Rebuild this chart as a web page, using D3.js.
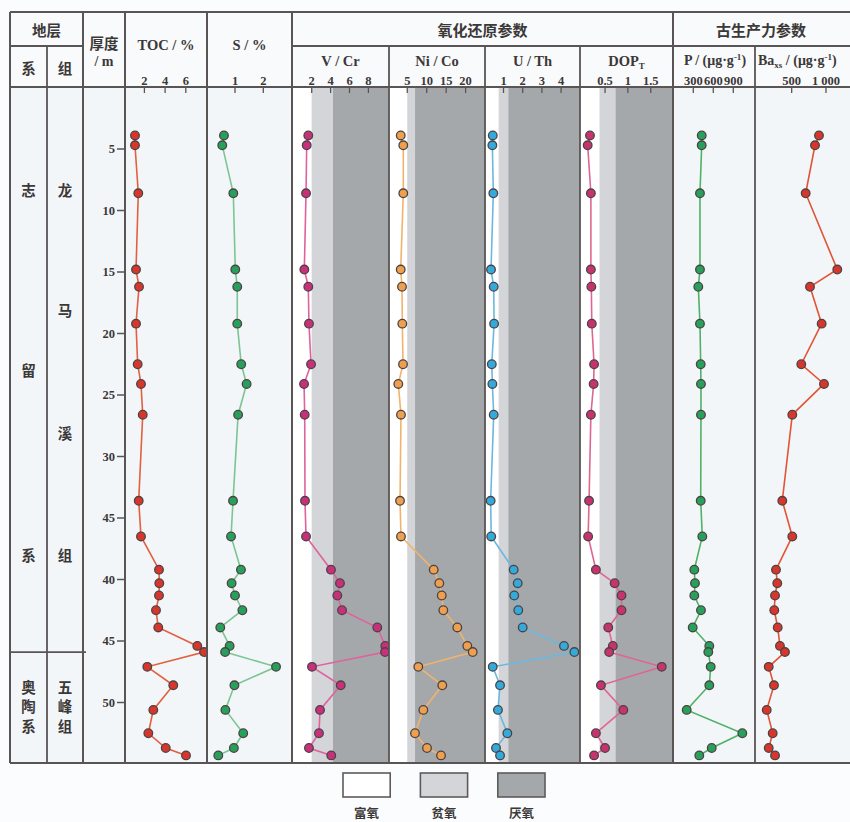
<!DOCTYPE html>
<html>
<head>
<meta charset="utf-8">
<script src="https://cdn.jsdelivr.net/npm/d3@7"></script>
<style>
  html, body { margin: 0; padding: 0; background: #fbfcfd; }
  svg { display: block; }
  .cjk { font-family: "Noto Sans CJK SC", sans-serif; font-weight: 700; fill: #3b3838; }
  .lat { font-family: "Liberation Serif", "DejaVu Serif", serif; font-weight: 700; fill: #3b3838; }
</style>
</head>
<body>
<svg id="chart" width="850" height="822"></svg>
<script>
// Sample depths (m) and measured values, one entry per sample
const depth  = [3.9, 4.7, 8.6, 14.8, 16.2, 19.2, 22.5, 24.1, 26.6, 33.6, 36.5, 39.2, 40.3, 41.3, 42.5, 43.9, 45.4, 45.9, 47.1, 48.6, 50.6, 52.5, 53.7, 54.3];
const toc    = [1.09, 1.09, 1.41, 1.19, 1.48, 1.19, 1.35, 1.67, 1.84, 1.45, 1.67, 3.41, 3.44, 3.41, 3.12, 3.34, 7.11, 7.76, 2.28, 4.79, 2.86, 2.38, 4.06, 6.02];
const sulfur = [0.61, 0.55, 0.94, 1.01, 1.08, 1.08, 1.22, 1.41, 1.11, 0.93, 0.86, 1.21, 0.88, 1.00, 1.26, 0.48, 0.81, 0.65, 2.45, 0.98, 0.66, 1.29, 0.96, 0.41];
const vCr    = [1.64, 1.47, 1.40, 1.22, 1.64, 1.71, 1.93, 1.19, 1.26, 1.29, 1.40, 4.04, 4.99, 4.71, 5.21, 8.94, 9.79, 9.76, 2.03, 5.07, 2.88, 2.77, 1.71, 4.07];
const niCo   = [3.32, 3.98, 3.98, 3.32, 3.65, 3.73, 3.91, 2.70, 3.39, 3.14, 3.39, 11.80, 13.24, 13.86, 14.27, 17.87, 20.44, 21.83, 7.84, 14.01, 9.13, 6.99, 10.08, 13.68];
const uTh    = [0.44, 0.42, 0.47, 0.35, 0.49, 0.51, 0.39, 0.42, 0.49, 0.33, 0.36, 1.53, 1.74, 1.56, 1.77, 2.00, 4.15, 4.69, 0.44, 0.82, 0.71, 1.20, 0.61, 0.82];
const dopT   = [0.17, 0.12, 0.19, 0.19, 0.20, 0.21, 0.26, 0.25, 0.19, 0.15, 0.13, 0.30, 0.71, 0.86, 0.86, 0.57, 0.67, 0.59, 1.74, 0.41, 0.90, 0.30, 0.50, 0.26];
const pConc  = [426, 426, 400, 400, 375, 400, 411, 415, 415, 411, 435, 315, 325, 315, 415, 291, 540, 525, 561, 540, 201, 1035, 576, 390];
const baXs   = [898, 840, 704, 1165, 767, 937, 640, 971, 509, 363, 509, 271, 290, 257, 246, 296, 329, 402, 165, 242, 136, 223, 165, 257];

// Axis ticks
const depthTicks      = [5, 10, 15, 20, 25, 30, 35, 40, 45, 50];
const depthTickLabels = ["5", "10", "15", "20", "25", "30", "45", "40", "45", "50"];
const tocTicks  = [2, 4, 6];
const sTicks    = [1, 2];
const vCrTicks  = [2, 4, 6, 8];
const niCoTicks = [5, 10, 15, 20];
const uThTicks  = [1, 2, 3, 4];
const dopTicks  = [0.5, 1, 1.5];
const dopTickLabels = ["0.5", "1", "1.5"];
const pTicks    = [300, 600, 900];
const baTicks   = [500, 1000];
const baTickLabels = ["500", "1 000"];

// Redox thresholds: [oxic/dysoxic, dysoxic/anoxic]
const vCrLimits  = [2, 4.25];
const niCoLimits = [5, 7];
const uThLimits  = [0.75, 1.25];
const dopLimits  = [0.38, 0.73];

// Stratigraphy
const formationBoundary = 45.9;
const legendLabels = ["富氧", "贫氧", "厌氧"];

// ---------------------------------------------------------------
const svg = d3.select("#chart");
const top0 = 12, midY = 46, headBot = 87, bodyBot = 763;
const cols = [10, 47, 83, 125, 207, 292, 389, 485, 580, 673, 755, 853];
const lineCol = "#595555";
const panelBg = "#f3f6f9";
const lightGrey = "#d3d5d8", darkGrey = "#a5a8ab";

const y = d3.scaleLinear().domain([0, 55]).range([headBot + 0.5, headBot + 0.5 + 55 * 12.3]);

// Background fills
svg.append("rect").attr("x", cols[0]).attr("y", top0).attr("width", 850 - cols[0]).attr("height", headBot - top0).attr("fill", "#f9fafb");
svg.append("rect").attr("x", cols[0]).attr("y", headBot).attr("width", 850 - cols[0]).attr("height", bodyBot - headBot).attr("fill", panelBg);

const panels = [
  { key: "toc",  left: cols[3], right: cols[4], vals: toc,    ticks: tocTicks,  domain: [0, 8],    range: [123.7, 206.5], fill: "#d8362c", line: "#e2603f" },
  { key: "s",    left: cols[4], right: cols[5], vals: sulfur, ticks: sTicks,    domain: [0, 3],    range: [206.7, 291.6], fill: "#26a05a", line: "#7cc592" },
  { key: "vcr",  left: cols[5], right: cols[6], vals: vCr,    ticks: vCrTicks,  domain: [0, 10],   range: [292.8, 387.3], fill: "#c9307c", line: "#e0629c", limits: vCrLimits },
  { key: "nico", left: cols[6], right: cols[7], vals: niCo,   ticks: niCoTicks, domain: [0, 25],   range: [387.8, 485.05], fill: "#eea04e", line: "#f1b36c", limits: niCoLimits },
  { key: "uth",  left: cols[7], right: cols[8], vals: uTh,    ticks: uThTicks,  domain: [0, 5],    range: [484.3, 580.3], fill: "#33a9dc", line: "#6cb8df", limits: uThLimits },
  { key: "dop",  left: cols[8], right: cols[9], vals: dopT,   ticks: dopTicks,  domain: [0, 2],    range: [582.2, 673.6], fill: "#c8326e", line: "#df6690", limits: dopLimits, tickLabels: dopTickLabels },
  { key: "p",    left: cols[9], right: cols[10], vals: pConc, ticks: pTicks,    domain: [0, 1200], range: [673.3, 753.3], fill: "#26a05a", line: "#4fb266" },
  { key: "ba",   left: cols[10], right: cols[11], vals: baXs, ticks: baTicks,   domain: [0, 1400], range: [757.4, 853.4], fill: "#d8362c", line: "#e25436", tickLabels: baTickLabels }
];

const defs = svg.append("defs");

panels.forEach(p => {
  const x = d3.scaleLinear().domain(p.domain).range(p.range);
  const clipId = "clip-" + p.key;
  defs.append("clipPath").attr("id", clipId)
    .append("rect").attr("x", p.left).attr("y", headBot).attr("width", p.right - p.left).attr("height", bodyBot - headBot);
  const g = svg.append("g").attr("clip-path", `url(#${clipId})`);

  // Redox zones
  if (p.limits) {
    const a = x(p.limits[0]), b = x(p.limits[1]);
    g.append("rect").attr("x", p.left).attr("y", headBot).attr("width", a - p.left).attr("height", bodyBot - headBot).attr("fill", "#ffffff");
    g.append("rect").attr("x", a).attr("y", headBot).attr("width", b - a).attr("height", bodyBot - headBot).attr("fill", lightGrey);
    g.append("rect").attr("x", b).attr("y", headBot).attr("width", p.right - b).attr("height", bodyBot - headBot).attr("fill", darkGrey);
  }

  const pts = depth.map((d, i) => [x(p.vals[i]), y(d)]);
  g.append("path").attr("d", d3.line()(pts)).attr("fill", "none").attr("stroke", p.line).attr("stroke-width", 1.6);
  g.selectAll("circle").data(pts).join("circle")
    .attr("cx", d => d[0]).attr("cy", d => d[1]).attr("r", 4.3)
    .attr("fill", p.fill).attr("stroke", "#4b4343").attr("stroke-width", 1.3);

  // Top axis ticks and labels
  const labels = p.tickLabels || p.ticks.map(t => String(t));
  svg.append("g").selectAll("line").data(p.ticks).join("line")
    .attr("x1", t => x(t)).attr("x2", t => x(t)).attr("y1", headBot).attr("y2", headBot + 6)
    .attr("stroke", lineCol).attr("stroke-width", 1.3);
  svg.append("g").selectAll("text").data(p.ticks).join("text")
    .attr("class", "lat").attr("x", t => x(t)).attr("y", 85).attr("text-anchor", "middle")
    .attr("font-size", 12.5).text((t, i) => labels[i]);
});

// Depth axis
svg.append("g").selectAll("line").data(depthTicks).join("line")
  .attr("x1", cols[3] - 8).attr("x2", cols[3]).attr("y1", d => y(d)).attr("y2", d => y(d))
  .attr("stroke", lineCol).attr("stroke-width", 1.5);
svg.append("g").selectAll("text").data(depthTicks).join("text")
  .attr("class", "lat").attr("x", cols[3] - 10).attr("y", d => y(d) + 4.3).attr("text-anchor", "end")
  .attr("font-size", 12.5).text((d, i) => depthTickLabels[i]);

// Grid lines
const grid = svg.append("g").attr("stroke", lineCol).attr("fill", "none");
grid.append("line").attr("x1", cols[0]).attr("x2", 851).attr("y1", top0).attr("y2", top0).attr("stroke-width", 2.2);
grid.append("line").attr("x1", cols[0]).attr("x2", 851).attr("y1", headBot).attr("y2", headBot).attr("stroke-width", 2);
grid.append("line").attr("x1", cols[0]).attr("x2", 851).attr("y1", bodyBot).attr("y2", bodyBot).attr("stroke-width", 2.2);
grid.append("line").attr("x1", cols[0]).attr("x2", cols[2]).attr("y1", midY).attr("y2", midY).attr("stroke-width", 1.8);
grid.append("line").attr("x1", cols[5]).attr("x2", 851).attr("y1", midY).attr("y2", midY).attr("stroke-width", 1.8);
[0, 2, 3, 4, 5, 9].forEach(i => {
  grid.append("line").attr("x1", cols[i]).attr("x2", cols[i]).attr("y1", top0).attr("y2", bodyBot).attr("stroke-width", 2);
});
[1, 6, 7, 8, 10].forEach(i => {
  grid.append("line").attr("x1", cols[i]).attr("x2", cols[i]).attr("y1", midY).attr("y2", bodyBot).attr("stroke-width", 1.8);
});
grid.append("line").attr("x1", cols[0]).attr("x2", cols[2] + 3).attr("y1", y(formationBoundary)).attr("y2", y(formationBoundary)).attr("stroke-width", 1.8);

// Header text
function txt(cls, x, yy, s, size, anchor) {
  return svg.append("text").attr("class", cls).attr("x", x).attr("y", yy)
    .attr("text-anchor", anchor || "middle").attr("font-size", size).text(s);
}
txt("cjk", (cols[0] + cols[2]) / 2, 36, "地层", 14.5);
txt("cjk", (cols[0] + cols[1]) / 2, 74, "系", 14.5);
txt("cjk", (cols[1] + cols[2]) / 2, 74, "组", 14.5);
txt("cjk", (cols[2] + cols[3]) / 2, 49, "厚度", 14.5);
txt("lat", (cols[2] + cols[3]) / 2, 66, "/ m", 14);
txt("lat", (cols[3] + cols[4]) / 2, 50, "TOC / %", 14.5);
txt("lat", (cols[4] + cols[5]) / 2, 50, "S / %", 14.5);
txt("cjk", (cols[5] + cols[9]) / 2, 36, "氧化还原参数", 15);
txt("cjk", 761, 36, "古生产力参数", 15);
txt("lat", (cols[5] + cols[6]) / 2, 66, "V / Cr", 14.5);
txt("lat", (cols[6] + cols[7]) / 2, 66, "Ni / Co", 14.5);
txt("lat", (cols[7] + cols[8]) / 2, 66, "U / Th", 14.5);
const dopLabel = txt("lat", (cols[8] + cols[9]) / 2, 66, "DOP", 14.5);
dopLabel.append("tspan").attr("font-size", 9).attr("dy", 3).text("T");

const pLabel = txt("lat", (cols[9] + cols[10]) / 2 + 1, 65, "P / (μg·g", 14);
pLabel.append("tspan").attr("font-size", 9).attr("dy", -5).text("-1");
pLabel.append("tspan").attr("dy", 5).text(")");
const baLabel = txt("lat", cols[10] + 3, 65, "Ba", 14, "start");
baLabel.append("tspan").attr("font-size", 9).attr("dy", 3).text("xs");
baLabel.append("tspan").attr("dy", -3).text(" / (μg·g");
baLabel.append("tspan").attr("font-size", 9).attr("dy", -5).text("-1");
baLabel.append("tspan").attr("dy", 5).text(")");

// Stratigraphic names
const sysX = (cols[0] + cols[1]) / 2, fmX = (cols[1] + cols[2]) / 2;
[["志", 196], ["留", 376], ["系", 561]].forEach(([c, yy]) => txt("cjk", sysX, yy, c, 14.5));
[["龙", 196], ["马", 316], ["溪", 439], ["组", 561]].forEach(([c, yy]) => txt("cjk", fmX, yy, c, 14.5));
[["奥", 693], ["陶", 712], ["系", 732]].forEach(([c, yy]) => txt("cjk", sysX, yy, c, 14.5));
[["五", 693], ["峰", 712], ["组", 732]].forEach(([c, yy]) => txt("cjk", fmX, yy, c, 14.5));

// Legend
const legendFills = ["#ffffff", lightGrey, darkGrey];
const legendX = d3.scaleBand().domain(legendLabels).range([343, 545]).paddingInner(0.39);
const lg = svg.append("g");
legendLabels.forEach((lab, i) => {
  const x0 = legendX(lab);
  lg.append("rect").attr("x", x0).attr("y", 773).attr("width", legendX.bandwidth()).attr("height", 24)
    .attr("fill", legendFills[i]).attr("stroke", "#5e5a5a").attr("stroke-width", 1.6);
  txt("cjk", x0 + legendX.bandwidth() / 2, 818, lab, 12.5);
});
</script>
</body>
</html>
